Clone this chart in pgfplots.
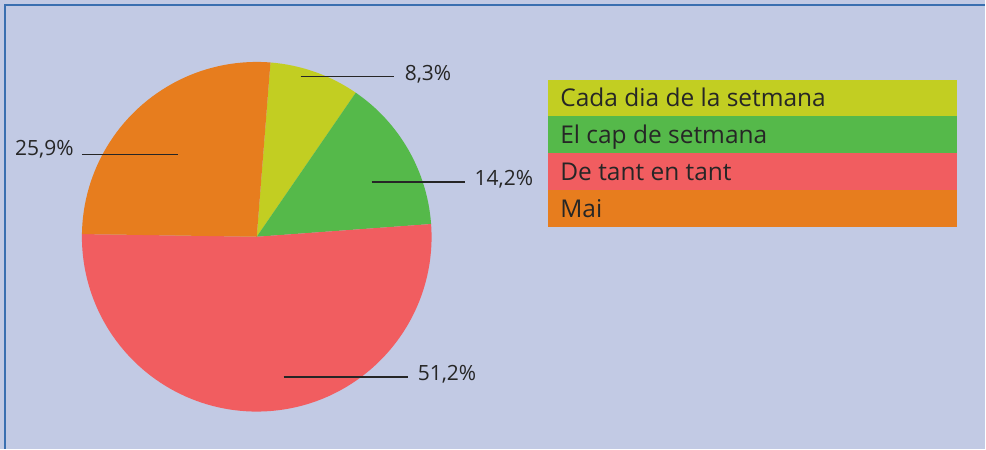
\documentclass[border=0pt]{standalone}
\usepackage{pgfplots}
\usepackage{pgfplotstable}
\pgfplotsset{compat=1.18}
\usepackage{fontspec}
\setmainfont{Open Sans}
\definecolor{bgc}{HTML}{C2CAE4}
\definecolor{framec}{HTML}{3A6FB0}
\definecolor{cyellow}{HTML}{C2CE22}
\definecolor{cgreen}{HTML}{55B94A}
\definecolor{cred}{HTML}{F15D60}
\definecolor{corange}{HTML}{E77D1E}
\definecolor{txt}{HTML}{262626}
\pgfplotstableread{
value color
8.3 cyellow
14.2 cgreen
51.2 cred
25.9 corange
}\piedata
% build the wedge commands from the table values
\gdef\wedges{}
\gdef\curang{85.5}
\pgfplotsforeachungrouped \i in {0,...,3} {%
  \pgfplotstablegetelem{\i}{value}\of\piedata \edef\val{\pgfplotsretval}%
  \pgfplotstablegetelem{\i}{color}\of\piedata \edef\col{\pgfplotsretval}%
  \pgfmathparse{\curang - \val*3.6144578}\edef\nextang{\pgfmathresult}%
  \xdef\wedges{\wedges\noexpand\fill[\col] (axis cs:257,212) -- ++(\curang:175pt) arc[start angle=\curang, end angle=\nextang, radius=175pt] -- cycle;}%
  \xdef\curang{\nextang}%
}
\begin{document}
\begin{tikzpicture}
\begin{axis}[
  scale only axis, width=986pt, height=449pt,
  xmin=0, xmax=986, ymin=0, ymax=449,
  hide axis, clip=false,
]
\fill[bgc] (axis cs:0,0) rectangle (axis cs:986,449);
\draw[framec, line width=2pt] (axis cs:5,0) -- (axis cs:5,443.5) -- (axis cs:986,443.5);
\wedges
% label leader lines
\begin{scope}[txt, line width=1.7pt]
\draw (axis cs:301,372.3) -- (axis cs:394,372.3);
\draw (axis cs:372,266.7) -- (axis cs:465,266.7);
\draw (axis cs:284,71.3) -- (axis cs:408,71.3);
\draw (axis cs:82,294.3) -- (axis cs:178,294.3);
\end{scope}
\begin{scope}[every node/.style={anchor=base west, inner sep=0pt, text=txt, font=\fontsize{21}{25}\selectfont}]
\node at (axis cs:405,368.6) {8,3\%};
\node at (axis cs:475,263) {14,2\%};
\node at (axis cs:418,68.3) {51,2\%};
\node at (axis cs:15,293) {25,9\%};
\end{scope}
% legend
\fill[cyellow] (axis cs:549,333.3) rectangle (axis cs:958,369);
\fill[cgreen] (axis cs:549,296) rectangle (axis cs:958,333.3);
\fill[cred] (axis cs:549,259) rectangle (axis cs:958,296);
\fill[corange] (axis cs:549,221.3) rectangle (axis cs:958,259);
\begin{scope}[every node/.style={anchor=base west, inner sep=0pt, text=txt, font=\fontsize{24.5}{29}\selectfont}]
\node at (axis cs:560.7,342.3) {Cada dia de la setmana};
\node at (axis cs:560.7,305) {El cap de setmana};
\node at (axis cs:560.7,268) {De tant en tant};
\node at (axis cs:560.7,231.3) {Mai};
\end{scope}
\end{axis}
\end{tikzpicture}
\end{document}
